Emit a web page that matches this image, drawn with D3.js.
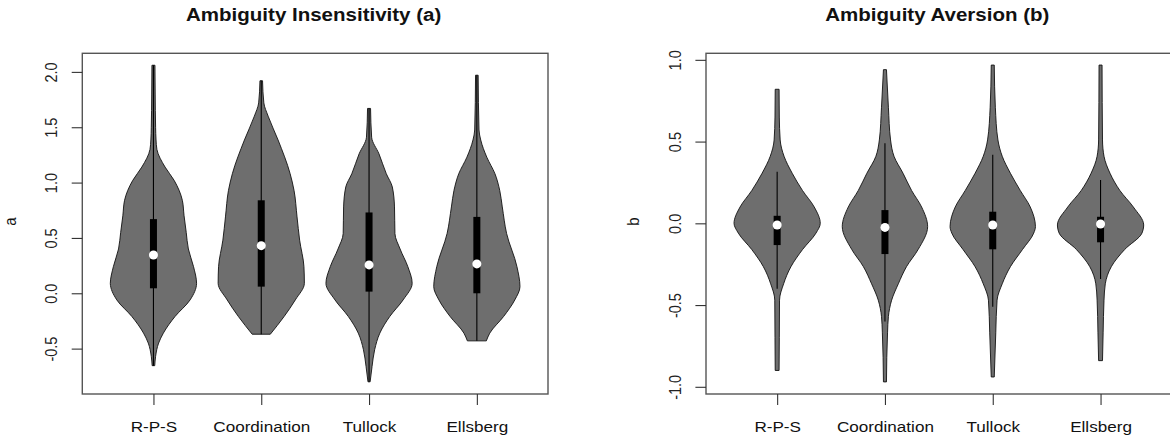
<!DOCTYPE html>
<html>
<head>
<meta charset="utf-8">
<script src="https://cdn.jsdelivr.net/npm/d3@7"></script>
<style>
  html, body { margin: 0; padding: 0; background: #fff; }
  svg { display: block; font-family: "Liberation Sans", Arial, Helvetica, sans-serif; }
</style>
</head>
<body>
<svg id="chart" width="1170" height="440"></svg>
<script>
// ---------------- DATA ----------------
const categories = ["R-P-S", "Coordination", "Tullock", "Ellsberg"];
const titles = ["Ambiguity Insensitivity (a)", "Ambiguity Aversion (b)"];
const yLabels = ["a", "b"];
const ticksA = [-0.5, 0.0, 0.5, 1.0, 1.5, 2.0];
const ticksB = [-1.0, -0.5, 0.0, 0.5, 1.0];
const yLimA = [-0.91, 2.168];
const yLimB = [-1.044, 1.04];

// violin density profiles: [value, relative half-width (max = 1)]
const aRPS = [[2.06,0.035],[1.80,0.04],[1.50,0.05],[1.385,0.06],[1.30,0.08],[1.14,0.27],[1.02,0.48],[0.84,0.67],[0.70,0.71],[0.55,0.76],[0.40,0.81],[0.24,0.93],[0.09,1.0],[-0.06,0.85],[-0.21,0.50],[-0.36,0.23],[-0.45,0.12],[-0.57,0.05],[-0.654,0.03]];
const aCoordination = [[1.92,0.03],[1.72,0.06],[1.60,0.16],[1.385,0.39],[1.08,0.67],[0.93,0.76],[0.69,0.83],[0.48,0.89],[0.24,0.99],[0.09,1.0],[-0.06,0.79],[-0.21,0.53],[-0.37,0.21]];
const aTullock = [[1.67,0.035],[1.41,0.06],[1.26,0.23],[1.08,0.40],[0.96,0.54],[0.78,0.59],[0.54,0.60],[0.40,0.72],[0.24,0.90],[0.09,1.0],[-0.06,0.79],[-0.21,0.48],[-0.36,0.25],[-0.51,0.13],[-0.66,0.07],[-0.80,0.025]];
const aEllsberg = [[1.97,0.03],[1.475,0.05],[1.385,0.09],[1.23,0.23],[1.08,0.42],[0.93,0.53],[0.78,0.59],[0.54,0.69],[0.24,0.93],[0.06,1.0],[-0.06,0.88],[-0.21,0.62],[-0.36,0.30],[-0.43,0.22]];

const bRPS = [[0.82,0.045],[0.65,0.05],[0.51,0.07],[0.41,0.16],[0.306,0.35],[0.20,0.59],[0.10,0.86],[0.0,1.0],[-0.06,0.90],[-0.16,0.59],[-0.265,0.32],[-0.37,0.15],[-0.47,0.055],[-0.70,0.05],[-0.90,0.045]];
const bCoordination = [[0.94,0.035],[0.71,0.08],[0.51,0.13],[0.41,0.21],[0.306,0.42],[0.20,0.62],[0.10,0.85],[-0.02,0.99],[-0.16,0.77],[-0.265,0.50],[-0.37,0.31],[-0.47,0.155],[-0.57,0.08],[-0.67,0.06],[-0.97,0.035]];
const bTullock = [[0.968,0.035],[0.71,0.06],[0.51,0.12],[0.41,0.22],[0.306,0.41],[0.20,0.64],[0.10,0.87],[-0.02,0.99],[-0.06,0.95],[-0.16,0.69],[-0.265,0.41],[-0.37,0.22],[-0.47,0.10],[-0.67,0.07],[-0.94,0.035]];
const bEllsberg = [[0.968,0.035],[0.51,0.045],[0.41,0.08],[0.306,0.22],[0.20,0.45],[0.10,0.76],[-0.01,1.0],[-0.06,0.96],[-0.16,0.56],[-0.265,0.25],[-0.37,0.11],[-0.47,0.08],[-0.67,0.06],[-0.84,0.045]];

// box summaries
const aMedian = [0.346, 0.43, 0.256, 0.265];
const aQ1 = [0.045, 0.06, 0.015, 0.0];
const aQ3 = [0.67, 0.84, 0.73, 0.69];
const aWhiskLo = [-0.654, -0.37, -0.80, -0.43];
const aWhiskHi = [2.06, 1.92, 1.67, 1.97];

const bMedian = [-0.01, -0.025, -0.01, -0.004];
const bQ1 = [-0.133, -0.188, -0.159, -0.116];
const bQ3 = [0.046, 0.081, 0.071, 0.04];
const bWhiskLo = [-0.40, -0.60, -0.51, -0.34];
const bWhiskHi = [0.316, 0.49, 0.42, 0.265];

// ---------------- DRAW ----------------
const svg = d3.select("#chart");
const fmt = v => v.toFixed(1);

const panels = [
  { left: 82.3, title: titles[0], ylab: yLabels[0], ticks: ticksA, ylim: yLimA,
    violins: [aRPS, aCoordination, aTullock, aEllsberg],
    med: aMedian, q1: aQ1, q3: aQ3, wlo: aWhiskLo, whi: aWhiskHi },
  { left: 706.0, title: titles[1], ylab: yLabels[1], ticks: ticksB, ylim: yLimB,
    violins: [bRPS, bCoordination, bTullock, bEllsberg],
    med: bMedian, q1: bQ1, q3: bQ3, wlo: bWhiskLo, whi: bWhiskHi }
];

const boxW = 465.7, plotTop = 53.3, plotBottom = 394;

panels.forEach(p => {
  const g = svg.append("g");
  const x = d3.scaleLinear().domain([0.34, 4.66]).range([p.left, p.left + boxW]);
  const y = d3.scaleLinear().domain(p.ylim).range([plotBottom, plotTop]);
  const unit = x(1) - x(0);
  const halfMax = 0.4 * unit;

  // violins
  p.violins.forEach((dat, i) => {
    const cx = x(i + 1);
    const pts = dat.slice().sort((a, b) => b[0] - a[0]);
    const area = d3.area()
      .y(d => y(d[0]))
      .x0(d => cx - d[1] * halfMax)
      .x1(d => cx + d[1] * halfMax)
      .curve(d3.curveMonotoneY);
    g.append("path").attr("d", area(pts))
      .attr("fill", "#6e6e6e").attr("stroke", "#111").attr("stroke-width", 0.9);
    // whisker
    g.append("line").attr("x1", cx).attr("x2", cx)
      .attr("y1", y(p.whi[i])).attr("y2", y(p.wlo[i]))
      .attr("stroke", "#000").attr("stroke-width", 1.1);
    // IQR box
    g.append("rect").attr("x", cx - 3.5).attr("width", 7)
      .attr("y", y(p.q3[i])).attr("height", y(p.q1[i]) - y(p.q3[i]))
      .attr("fill", "#000");
    // median
    g.append("circle").attr("cx", cx).attr("cy", y(p.med[i])).attr("r", 4.5)
      .attr("fill", "#fff");
  });

  // box frame
  g.append("rect").attr("x", p.left).attr("y", plotTop)
    .attr("width", boxW).attr("height", plotBottom - plotTop)
    .attr("fill", "none").attr("stroke", "#555").attr("stroke-width", 1.4);

  // y axis
  const ya = g.append("g").attr("transform", `translate(${p.left},0)`)
    .call(d3.axisLeft(y).tickValues(p.ticks).tickFormat(fmt).tickSize(10.6).tickSizeOuter(0));
  ya.select(".domain").remove();
  ya.selectAll(".tick line").attr("stroke", "#333").attr("stroke-width", 1.1);
  ya.selectAll(".tick text")
    .attr("x", null).attr("dy", null)
    .attr("transform", "translate(-25,0) scale(1.13,1) rotate(-90)")
    .attr("text-anchor", "middle")
    .attr("font-size", 14.5).attr("fill", "#222")
    .style("font-family", "'Liberation Sans', Arial, sans-serif");

  // x axis
  const xa = g.append("g").attr("transform", `translate(0,${plotBottom})`)
    .call(d3.axisBottom(x).tickValues([1, 2, 3, 4]).tickFormat(d => categories[d - 1]).tickSize(11).tickSizeOuter(0));
  xa.select(".domain").remove();
  xa.selectAll(".tick line").attr("stroke", "#333").attr("stroke-width", 1.1);
  xa.selectAll(".tick text")
    .attr("y", null).attr("dy", null)
    .attr("transform", "translate(0,38) scale(1.14,1)")
    .attr("text-anchor", "middle")
    .attr("font-size", 15).attr("fill", "#111")
    .style("font-family", "'Liberation Sans', Arial, sans-serif");

  // title
  const cxBox = p.left + boxW / 2 - 1.5;
  g.append("text")
    .attr("transform", `translate(${cxBox},21) scale(1.08,1)`)
    .attr("text-anchor", "middle").attr("font-weight", "bold").attr("font-size", 19)
    .attr("fill", "#111").text(p.title);

  // y label
  g.append("text")
    .attr("transform", `translate(${p.left - 66.6},${(plotTop + plotBottom) / 2 - 2}) scale(1.13,1) rotate(-90)`)
    .attr("text-anchor", "middle").attr("font-size", 15).attr("fill", "#111")
    .text(p.ylab);
});
</script>
</body>
</html>
